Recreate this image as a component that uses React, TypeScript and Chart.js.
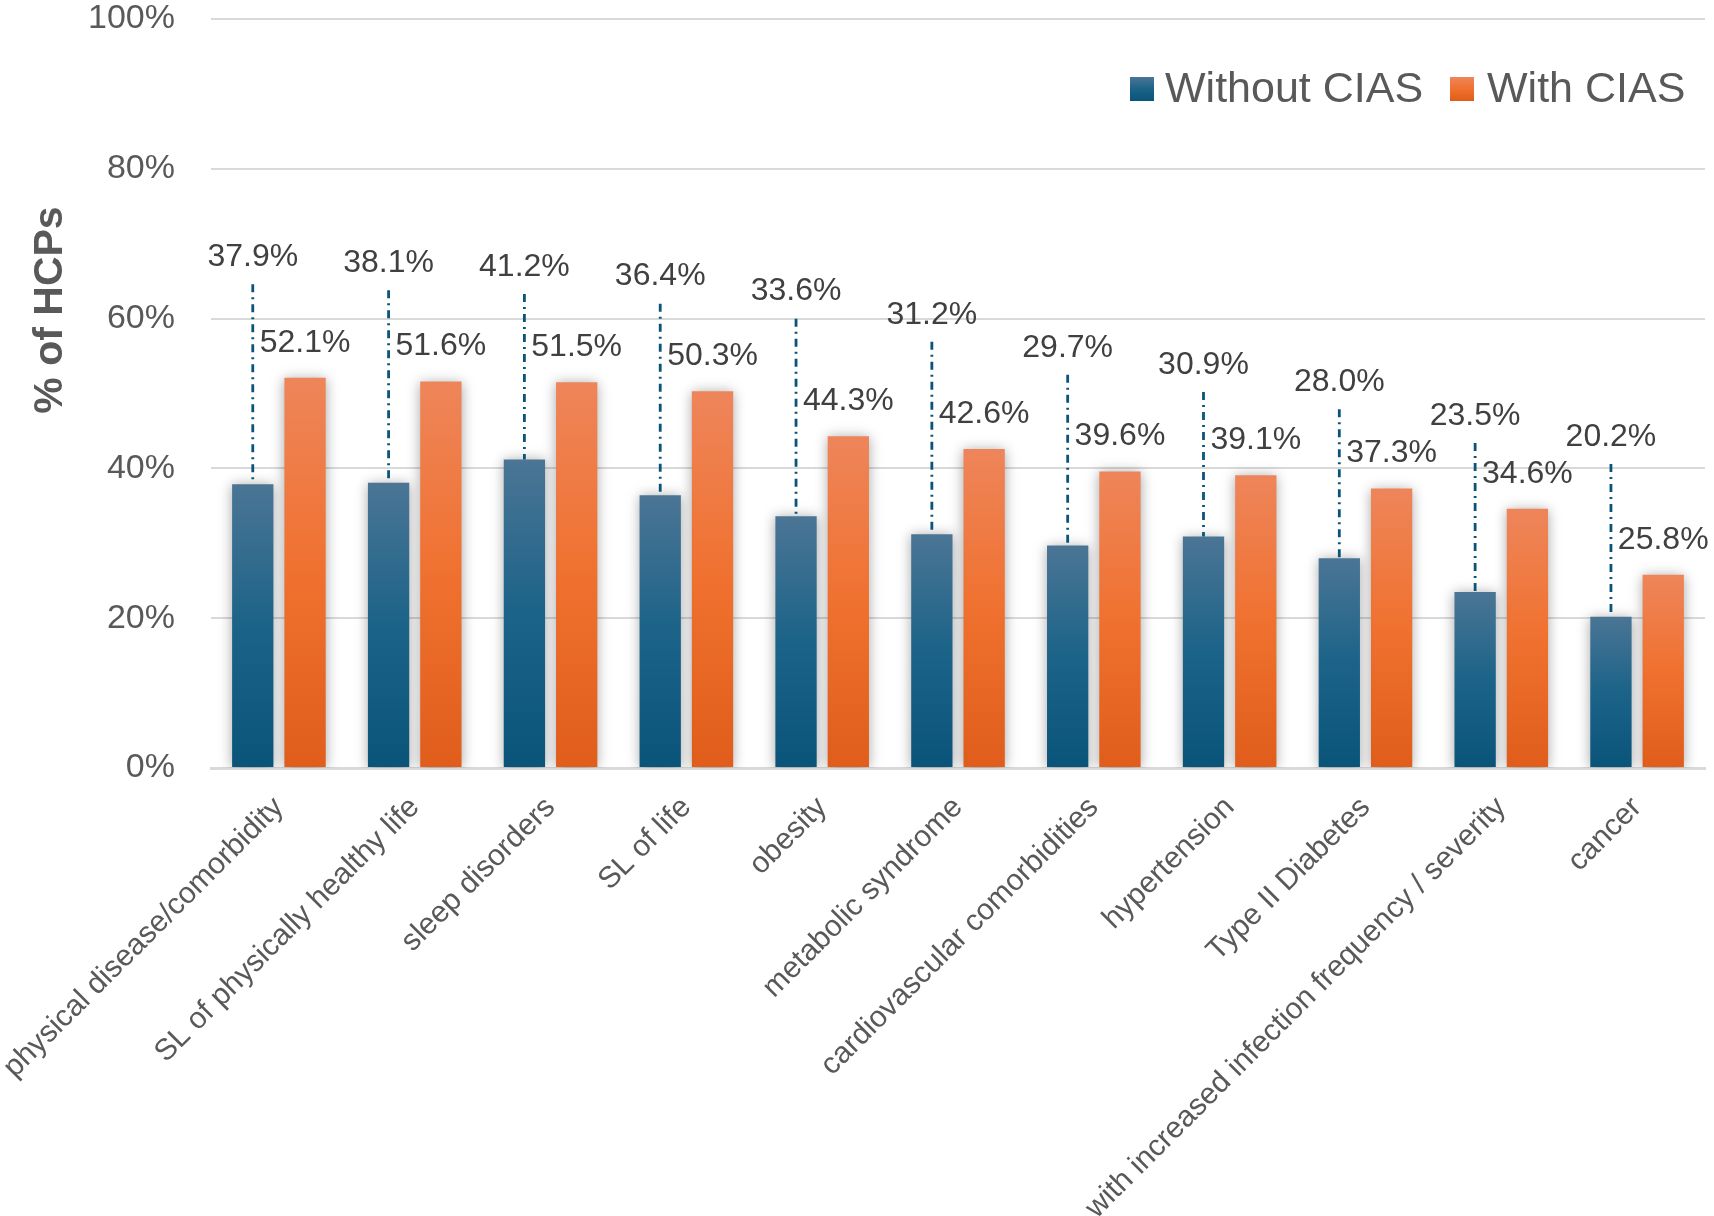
import React, { useEffect, useRef } from 'react';
import { Chart, registerables } from 'chart.js';

Chart.register(...registerables);

const categories = [
  'physical disease/comorbidity',
  'SL of physically healthy life',
  'sleep disorders',
  'SL of life',
  'obesity',
  'metabolic syndrome',
  'cardiovascular comorbidities',
  'hypertension',
  'Type II Diabetes',
  'with increased infection frequency / severity',
  'cancer',
];
const seriesNames = ['Without CIAS', 'With CIAS'];
const withoutCIAS = [37.9, 38.1, 41.2, 36.4, 33.6, 31.2, 29.7, 30.9, 28.0, 23.5, 20.2];
const withCIAS = [52.1, 51.6, 51.5, 50.3, 44.3, 42.6, 39.6, 39.1, 37.3, 34.6, 25.8];
// heights (in % units) at which the "Without CIAS" callout labels sit
const withoutLabelLevels = [68.2, 67.4, 66.9, 65.6, 63.6, 60.5, 56.1, 53.8, 51.5, 47.0, 44.2];
const yAxisTitle = '% of HCPs';
const yMin = 0;
const yMax = 100;
const yStep = 20;

const FONT = "'Liberation Sans', Arial, sans-serif";
const TEXT_GREY = '#595959';
const LABEL_DARK = '#404040';
const BLUE_STOPS = ['#4b7595', '#1b6388', '#0b5479'];
const ORANGE_STOPS = ['#ee855a', '#f0712f', '#e05d1b'];

const fmt = (v: number) => v.toFixed(1) + '%';

function grad(ctx: CanvasRenderingContext2D, top: number, bottom: number, stops: string[]) {
  const g = ctx.createLinearGradient(0, top, 0, bottom);
  g.addColorStop(0, stops[0]);
  g.addColorStop(0.5, stops[1]);
  g.addColorStop(1, stops[2]);
  return g;
}

const makeBg = (stops: string[]) => (c: any) => {
  const chart = c.chart;
  const y = chart.scales && chart.scales.y;
  if (!chart.chartArea || !y || c.type !== 'data') return stops[1];
  const top = y.getPixelForValue(c.raw as number);
  const bottom = y.getPixelForValue(0);
  return grad(chart.ctx, top, bottom, stops);
};

const decorPlugin = {
  id: 'decor',
  beforeDatasetsDraw(chart: any) {
    const ctx = chart.ctx;
    ctx.save();
    ctx.shadowColor = 'rgba(0,0,0,0.35)';
    ctx.shadowBlur = 12;
    ctx.shadowOffsetX = 0;
    ctx.shadowOffsetY = 1;
  },
  afterDatasetsDraw(chart: any) {
    const ctx = chart.ctx;
    ctx.restore();
    const y = chart.scales.y;
    const m0 = chart.getDatasetMeta(0);
    const m1 = chart.getDatasetMeta(1);
    ctx.save();
    m0.data.forEach((bar: any, i: number) => {
      const ly = y.getPixelForValue(withoutLabelLevels[i]);
      ctx.save();
      ctx.strokeStyle = '#0b5479';
      ctx.lineWidth = 2.8;
      ctx.setLineDash([8, 5, 2, 5]);
      ctx.beginPath();
      ctx.moveTo(bar.x, ly + 27);
      ctx.lineTo(bar.x, bar.y);
      ctx.stroke();
      ctx.restore();
      ctx.font = `32px ${FONT}`;
      ctx.fillStyle = LABEL_DARK;
      ctx.textAlign = 'center';
      ctx.textBaseline = 'middle';
      ctx.fillText(fmt(withoutCIAS[i]), bar.x, ly);
    });
    m1.data.forEach((bar: any, i: number) => {
      ctx.font = `32px ${FONT}`;
      ctx.fillStyle = LABEL_DARK;
      ctx.textAlign = 'center';
      ctx.textBaseline = 'middle';
      ctx.fillText(fmt(withCIAS[i]), bar.x, bar.y - 35);
    });
    ctx.restore();
  },
  afterDraw(chart: any) {
    const ctx = chart.ctx;
    ctx.save();
    // y-axis title
    ctx.translate(51, 310);
    ctx.rotate(-Math.PI / 2);
    ctx.font = `bold 41px ${FONT}`;
    ctx.fillStyle = TEXT_GREY;
    ctx.textAlign = 'center';
    ctx.textBaseline = 'middle';
    ctx.fillText(yAxisTitle, 0, 0);
    ctx.restore();

    // legend
    ctx.save();
    const cy = 89;
    const items = [
      { x: 1130, tx: 1165, stops: BLUE_STOPS, label: seriesNames[0] },
      { x: 1450, tx: 1487, stops: ORANGE_STOPS, label: seriesNames[1] },
    ];
    items.forEach((it) => {
      ctx.fillStyle = grad(ctx, cy - 12, cy + 12, it.stops);
      ctx.fillRect(it.x, cy - 12, 24, 24);
      ctx.font = `43px ${FONT}`;
      ctx.fillStyle = TEXT_GREY;
      ctx.textAlign = 'left';
      ctx.textBaseline = 'middle';
      ctx.fillText(it.label, it.tx, cy + 1);
    });
    ctx.restore();
  },
};

export default function App() {
  const ref = useRef<HTMLCanvasElement | null>(null);
  useEffect(() => {
    if (!ref.current) return;
    const chart = new Chart(ref.current, {
      type: 'bar',
      data: {
        labels: categories,
        datasets: [
          {
            label: seriesNames[0],
            data: withoutCIAS,
            backgroundColor: makeBg(BLUE_STOPS),
            categoryPercentage: 0.77,
            barPercentage: 0.79,
          },
          {
            label: seriesNames[1],
            data: withCIAS,
            backgroundColor: makeBg(ORANGE_STOPS),
            categoryPercentage: 0.77,
            barPercentage: 0.79,
          },
        ],
      },
      options: {
        responsive: false,
        animation: false,
        layout: { padding: { left: 0, right: 9, top: 19, bottom: 0 } },
        plugins: {
          legend: { display: false },
          tooltip: { enabled: false },
        },
        scales: {
          x: {
            grid: { display: false, drawTicks: false },
            border: { display: true, color: '#d9d9d9', width: 3 },
            ticks: {
              autoSkip: false,
              minRotation: 45,
              maxRotation: 45,
              padding: 22,
              color: TEXT_GREY,
              font: { family: FONT, size: 30 },
            },
            afterFit: (s: any) => {
              s.height = 448;
              s.paddingLeft = 0;
              s.paddingRight = 0;
              s.paddingTop = 0;
              s.paddingBottom = 0;
            },
          },
          y: {
            min: yMin,
            max: yMax,
            grid: { color: '#d9d9d9', lineWidth: 2, drawTicks: false },
            border: { display: false },
            ticks: {
              stepSize: yStep,
              padding: 36,
              color: TEXT_GREY,
              font: { family: FONT, size: 34 },
              callback: (v: any) => v + '%',
            },
            afterFit: (s: any) => {
              s.width = 211;
              s.paddingLeft = 0;
              s.paddingRight = 0;
              s.paddingTop = 0;
              s.paddingBottom = 0;
            },
          },
        },
      },
      plugins: [decorPlugin],
    });
    return () => chart.destroy();
  }, []);
  return (
    <div style={{ position: 'fixed', left: 0, top: 0, width: 1714, height: 1216, background: '#fff' }}>
      <canvas ref={ref} width={1714} height={1216} />
    </div>
  );
}
